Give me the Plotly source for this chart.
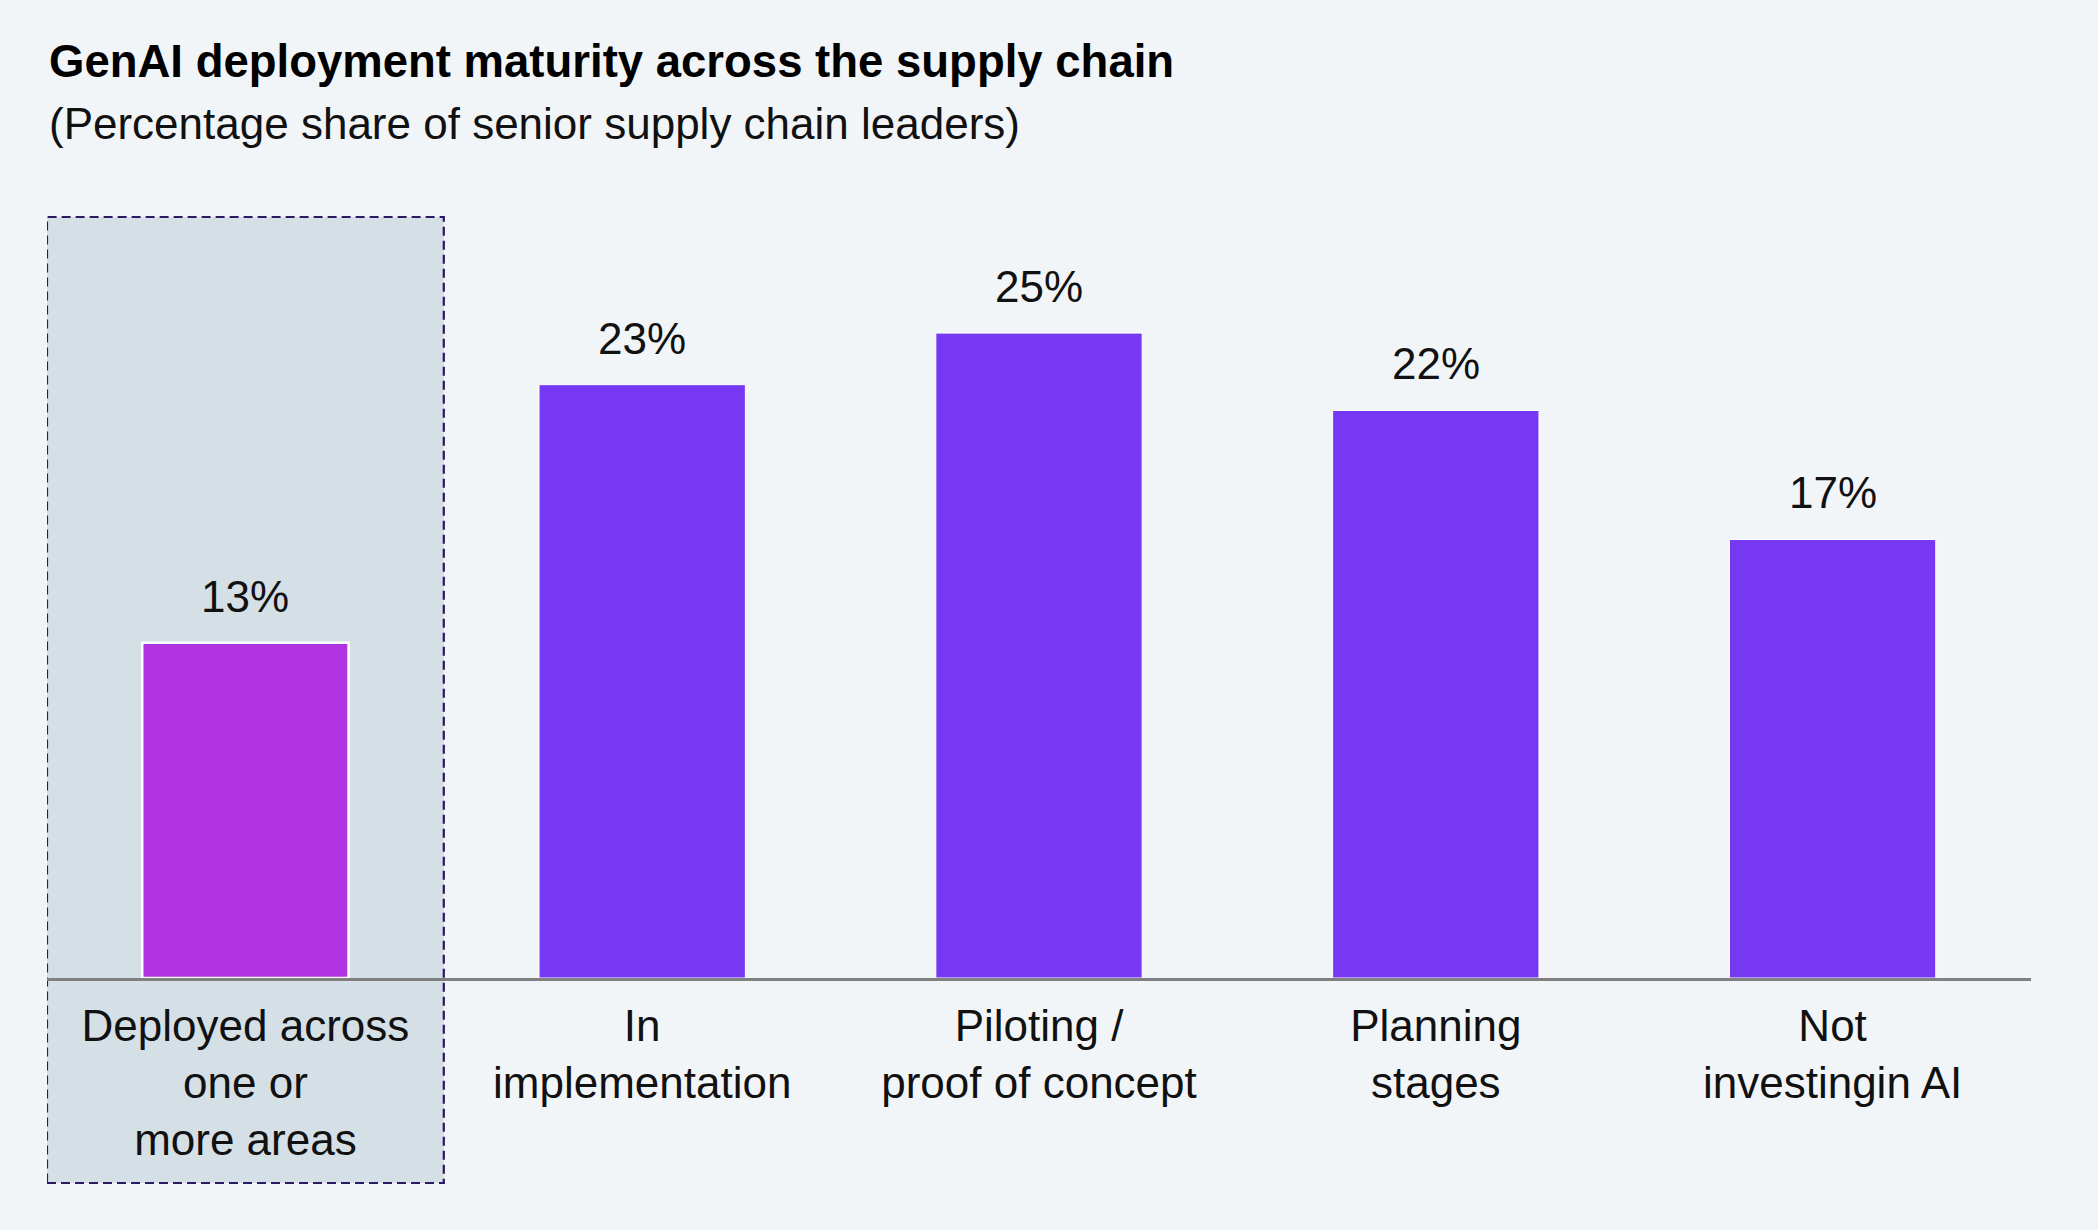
import plotly.graph_objects as go

categories = ["Deployed across<br>one or<br>more areas", "In<br>implementation",
              "Piloting /<br>proof of concept", "Planning<br>stages", "Not<br>investingin AI"]
values = [13, 23, 25, 22, 17]
value_labels = ["13%", "23%", "25%", "22%", "17%"]
bar_colors = ["#B233E1", "#7638F1", "#7638F1", "#7638F1", "#7638F1"]
outline_widths = [2.5, 1, 1, 1, 1]

title_text = "<b>GenAI deployment maturity across the supply chain</b>"
subtitle_text = "(Percentage share of senior supply chain leaders)"

FONT = "Liberation Sans, Arial, Helvetica, sans-serif"
BG = "#F2F5F8"

x_idx = list(range(len(categories)))

fig = go.Figure()
fig.add_trace(go.Bar(
    x=x_idx, y=values, width=0.52,
    marker=dict(color=bar_colors, line=dict(color="white", width=outline_widths)),
    hoverinfo="skip", showlegend=False,
))

for xi, v, t in zip(x_idx, values, value_labels):
    fig.add_annotation(x=xi, y=v, xref="x", yref="y", text=t, showarrow=False,
                       yanchor="bottom", yshift=20,
                       font=dict(family=FONT, size=44, color="#111111"))

# highlighted box around the first category
fig.add_shape(type="rect", xref="x", yref="paper",
              x0=x_idx[0] - 0.5, x1=x_idx[0] + 0.5, y0=-0.2694, y1=1.0,
              fillcolor="#D5DFE6", line=dict(color="#2A1A66", width=2.2, dash="9px,5px"),
              layer="below")

fig.add_annotation(xref="paper", yref="paper", x=0, y=1.204, xanchor="left", yanchor="middle",
                   text=title_text, showarrow=False,
                   font=dict(family=FONT, size=45.5, color="#000000"))
fig.add_annotation(xref="paper", yref="paper", x=0, y=1.1235, xanchor="left", yanchor="middle",
                   text=subtitle_text, showarrow=False,
                   font=dict(family=FONT, size=44, color="#111111"))

fig.update_layout(
    width=2098, height=1230,
    margin=dict(l=47, r=67, t=217, b=252),
    paper_bgcolor=BG, plot_bgcolor="rgba(0,0,0,0)",
    font=dict(family=FONT, size=44, color="#111111"),
    xaxis=dict(range=[-0.5, 4.5], tickmode="array", tickvals=x_idx, ticktext=categories,
               showgrid=False, zeroline=False, showline=True, linecolor="#808080", linewidth=2.6,
               ticks="", ticklabelstandoff=7, tickfont=dict(family=FONT, size=44, color="#111111"),
               fixedrange=True),
    yaxis=dict(range=[0, 29.5], visible=False, showgrid=False, zeroline=False, fixedrange=True),
    bargap=0.48,
)

fig.write_html("out.html", config={"displayModeBar": False},
               post_script="document.body.style.margin='0';document.body.style.background='%s';" % BG)
